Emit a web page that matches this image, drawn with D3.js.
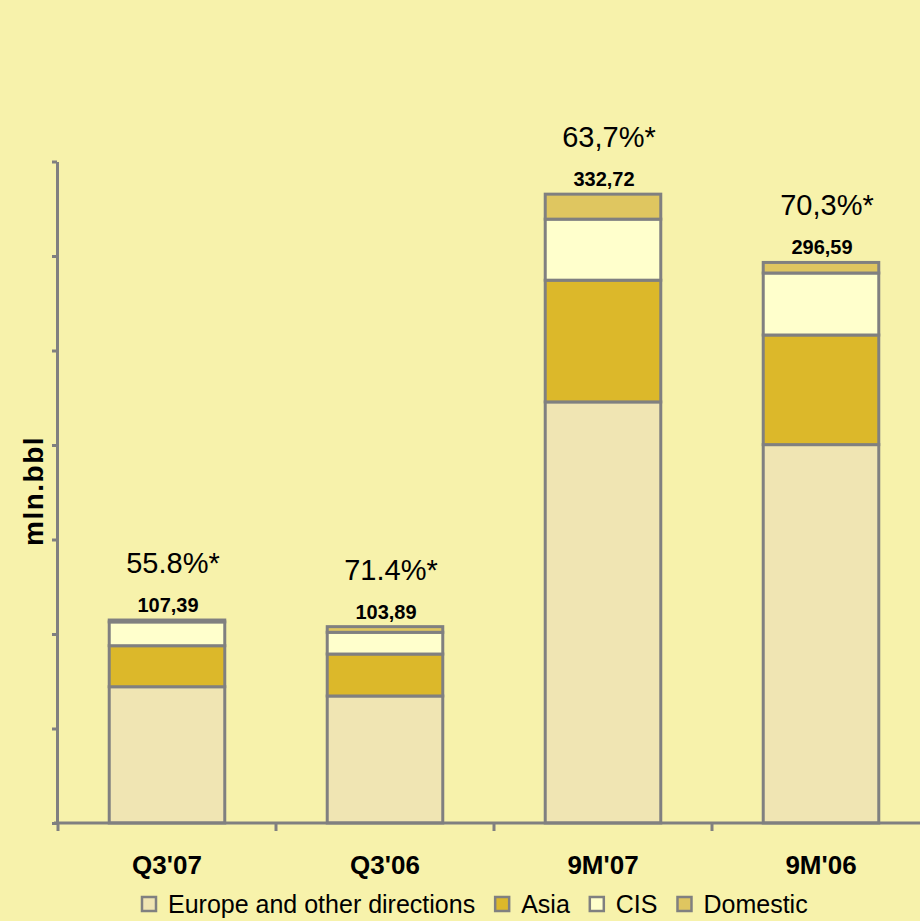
<!DOCTYPE html>
<meta charset="utf-8">
<style>
  body { margin: 0; background: #f7f2ab; }
  svg { display: block; font-family: 'Liberation Sans', Arial, sans-serif; }
  .axis path, .axis line { stroke: #808080; stroke-width: 3; fill: none; }
</style>
<body>
<div id="chart"></div>
<script src="https://d3js.org/d3.v7.min.js"></script>
<script>
// categories and series (mln.bbl)
var categories = ["Q3'07", "Q3'06", "9M'07", "9M'06"];
var seriesNames = ["Europe and other directions", "Asia", "CIS", "Domestic"];
var europe   = [72.1, 67.2, 222.8, 200.2];
var asia     = [21.7, 22.2, 64.4, 58.0];
var cis      = [12.6, 11.5, 32.3, 32.8];
var domestic = [0.99, 2.99, 13.22, 5.59];
var totalLabels = ["107,39", "103,89", "332,72", "296,59"];
var shareLabels = ["55.8%*", "71.4%*", "63,7%*", "70,3%*"];
var yTicks = [0, 50, 100, 150, 200, 250, 300, 350];

var colors = ["#f0e5b3", "#dcb82a", "#ffffcc", "#dfc660"];
var W = 920, H = 921;

var svg = d3.select("#chart").append("svg")
  .attr("width", W).attr("height", H);

svg.append("rect").attr("width", W).attr("height", H).attr("fill", "#f7f2ab");

var rows = categories.map(function(c, i) {
  return { cat: c, s0: europe[i], s1: asia[i], s2: cis[i], s3: domestic[i] };
});

var x = d3.scaleBand()
  .domain(categories)
  .range([58, 930])
  .paddingInner(0.47)
  .paddingOuter(0.235);

var y = d3.scaleLinear()
  .domain([0, 350])
  .range([823, 161.5]);

var stack = d3.stack().keys(["s0", "s1", "s2", "s3"]);
var layers = stack(rows);

// bars
svg.append("g").selectAll("g")
  .data(layers)
  .enter().append("g")
  .attr("fill", function(d, i) { return colors[i]; })
  .selectAll("rect")
  .data(function(d) { return d; })
  .enter().append("rect")
  .attr("x", function(d) { return x(d.data.cat); })
  .attr("y", function(d) { return y(d[1]); })
  .attr("width", x.bandwidth())
  .attr("height", function(d) { return y(d[0]) - y(d[1]); })
  .attr("stroke", "#808080")
  .attr("stroke-width", 3);

// y axis (no labels)
svg.append("g")
  .attr("class", "axis")
  .attr("transform", "translate(57,0)")
  .call(d3.axisLeft(y).tickValues(yTicks).tickFormat("").tickSize(5).tickSizeOuter(0));

// x axis line and ticks between categories
var step = x.step();
var bounds = categories.map(function(c) { return x(c) - step * 0.235; });
svg.append("line")
  .attr("x1", 54).attr("x2", W)
  .attr("y1", 823).attr("y2", 823)
  .attr("stroke", "#808080").attr("stroke-width", 3);
svg.append("g").selectAll("line")
  .data(bounds)
  .enter().append("line")
  .attr("x1", function(d) { return d; })
  .attr("x2", function(d) { return d; })
  .attr("y1", 823).attr("y2", 831)
  .attr("stroke", "#808080").attr("stroke-width", 3);

// category labels
svg.append("g").selectAll("text")
  .data(categories)
  .enter().append("text")
  .attr("x", function(d) { return x(d) + x.bandwidth() / 2; })
  .attr("y", 874)
  .attr("text-anchor", "middle")
  .style("font-size", "26px")
  .style("font-weight", "bold")
  .text(function(d) { return d; });

// totals above bars
var totals = rows.map(function(r) { return r.s0 + r.s1 + r.s2 + r.s3; });
svg.append("g").selectAll("text")
  .data(categories)
  .enter().append("text")
  .attr("x", function(d) { return x(d) + x.bandwidth() / 2 + 1; })
  .attr("y", function(d, i) { return y(totals[i]) - 8; })
  .attr("text-anchor", "middle")
  .style("font-size", "20px")
  .style("font-weight", "bold")
  .text(function(d, i) { return totalLabels[i]; });

// share labels
svg.append("g").selectAll("text")
  .data(categories)
  .enter().append("text")
  .attr("x", function(d) { return x(d) + x.bandwidth() / 2 + 6; })
  .attr("y", function(d, i) { return y(totals[i]) - 47; })
  .attr("text-anchor", "middle")
  .style("font-size", "29px")
  .text(function(d, i) { return shareLabels[i]; });

// y axis label
svg.append("text")
  .attr("transform", "translate(43,491) rotate(-90)")
  .attr("text-anchor", "middle")
  .style("font-size", "28px")
  .style("font-weight", "bold")
  .style("letter-spacing", "1.5px")
  .text("mln.bbl");

// legend
var lx = 142;
seriesNames.forEach(function(name, i) {
  svg.append("rect")
    .attr("x", lx).attr("y", 897)
    .attr("width", 14).attr("height", 14)
    .attr("fill", colors[i])
    .attr("stroke", "#808080").attr("stroke-width", 2.5);
  var t = svg.append("text")
    .attr("x", lx + 26).attr("y", 913)
    .style("font-size", "25px")
    .text(name);
  lx = lx + 26 + t.node().getComputedTextLength() + 20;
});
</script>
</body>
